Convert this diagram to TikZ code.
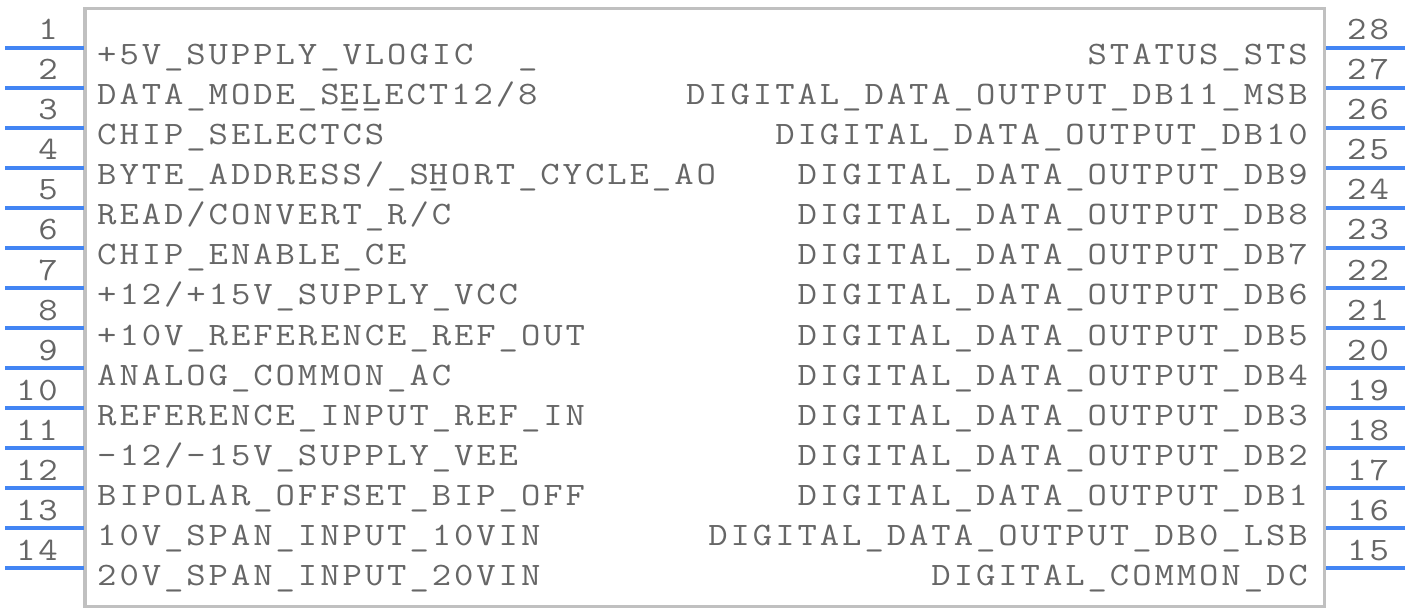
\documentclass[tikz,border=0pt]{standalone}
\usepackage{fontspec}
\newfontfamily\pinfont[FakeStretch=1.15,LetterSpace=9]{Latin Modern Mono}
\definecolor{pinblue}{RGB}{66,133,244}
\definecolor{labelgray}{RGB}{102,102,102}
\definecolor{boxgray}{RGB}{192,192,192}
\tikzset{
  pin/.style={draw=pinblue, line width=3.5pt},
  body/.style={draw=boxgray, line width=3.5pt},
  sig/.style={inner sep=0pt, text=labelgray, font=\pinfont\fontsize{32.7}{32.7}\selectfont},
}
\begin{document}
\begin{tikzpicture}[x=1pt,y=-1pt]
  \useasboundingbox (0,0) rectangle (1408,612);
  \draw[body] (85,8.5) rectangle (1324.5,606.5);
  % pins, left 1..14 and right 28..15
  \foreach \k [evaluate=\k as \y using {48+40*(\k-1)}, evaluate=\k as \n using {int(29-\k)}] in {1,...,14} {
    \coordinate (pin\k) at (5,\y);
    \coordinate (end\k) at (84,\y);
    \draw[pin] (pin\k) -- (end\k);
    \node[sig, anchor=base east] (num\k) at (58,\y-8) {\k};
    \coordinate (pin\n) at (1405,\y);
    \coordinate (end\n) at (1326,\y);
    \draw[pin] (pin\n) -- (end\n);
    \node[sig, anchor=base west] (num\n) at (1347,\y-8) {\n};
  }
  % left labels
  \node[sig, anchor=base west] (l1) at (97,65) {+5V\_SUPPLY\_VLOGIC\ \ \_};
  \node[sig, anchor=base west] (l2) at (97,105) {DATA\_MODE\_S\rlap{\_\_}ELECT12/8};
  \node[sig, anchor=base west] (l3) at (97,145) {CHIP\_SELECTCS};
  \node[sig, anchor=base west] (l4) at (97,185) {BYTE\_ADDRESS/\_S\rlap{\_}HORT\_CYCLE\_AO};
  \node[sig, anchor=base west] (l5) at (97,225) {READ/CONVERT\_R/C};
  \node[sig, anchor=base west] (l6) at (97,265) {CHIP\_ENABLE\_CE};
  \node[sig, anchor=base west] (l7) at (97,305) {+12/+15V\_SUPPLY\_VCC};
  \node[sig, anchor=base west] (l8) at (97,345) {+10V\_REFERENCE\_REF\_OUT};
  \node[sig, anchor=base west] (l9) at (97,385) {ANALOG\_COMMON\_AC};
  \node[sig, anchor=base west] (l10) at (97,425) {REFERENCE\_INPUT\_REF\_IN};
  \node[sig, anchor=base west] (l11) at (97,465) {-12/-15V\_SUPPLY\_VEE};
  \node[sig, anchor=base west] (l12) at (97,505) {BIPOLAR\_OFFSET\_BIP\_OFF};
  \node[sig, anchor=base west] (l13) at (97,545) {10V\_SPAN\_INPUT\_10VIN};
  \node[sig, anchor=base west] (l14) at (97,585) {20V\_SPAN\_INPUT\_20VIN};
  % right labels
  \node[sig, anchor=base east] (r28) at (1308,65) {STATUS\_STS};
  \node[sig, anchor=base east] (r27) at (1308,105) {DIGITAL\_DATA\_OUTPUT\_DB11\_MSB};
  \node[sig, anchor=base east] (r26) at (1308,145) {DIGITAL\_DATA\_OUTPUT\_DB10};
  \node[sig, anchor=base east] (r25) at (1308,185) {DIGITAL\_DATA\_OUTPUT\_DB9};
  \node[sig, anchor=base east] (r24) at (1308,225) {DIGITAL\_DATA\_OUTPUT\_DB8};
  \node[sig, anchor=base east] (r23) at (1308,265) {DIGITAL\_DATA\_OUTPUT\_DB7};
  \node[sig, anchor=base east] (r22) at (1308,305) {DIGITAL\_DATA\_OUTPUT\_DB6};
  \node[sig, anchor=base east] (r21) at (1308,345) {DIGITAL\_DATA\_OUTPUT\_DB5};
  \node[sig, anchor=base east] (r20) at (1308,385) {DIGITAL\_DATA\_OUTPUT\_DB4};
  \node[sig, anchor=base east] (r19) at (1308,425) {DIGITAL\_DATA\_OUTPUT\_DB3};
  \node[sig, anchor=base east] (r18) at (1308,465) {DIGITAL\_DATA\_OUTPUT\_DB2};
  \node[sig, anchor=base east] (r17) at (1308,505) {DIGITAL\_DATA\_OUTPUT\_DB1};
  \node[sig, anchor=base east] (r16) at (1308,545) {DIGITAL\_DATA\_OUTPUT\_DB0\_LSB};
  \node[sig, anchor=base east] (r15) at (1308,585) {DIGITAL\_COMMON\_DC};
\end{tikzpicture}
\end{document}
